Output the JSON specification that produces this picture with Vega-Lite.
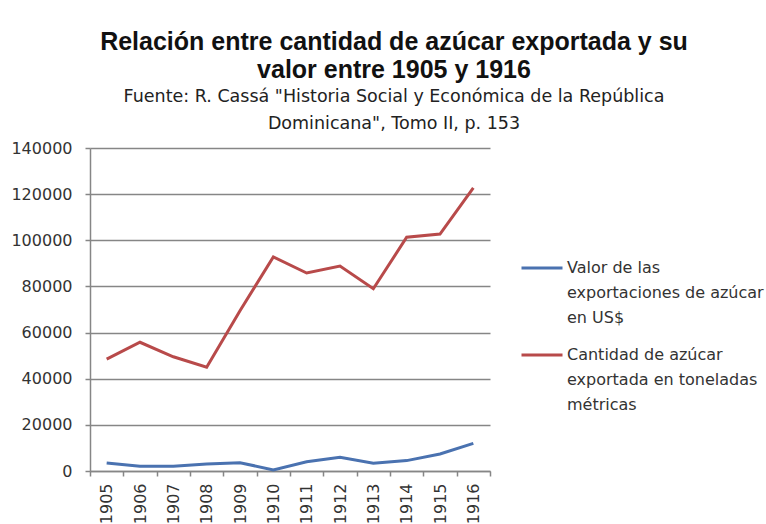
{
  "$schema": "https://vega.github.io/schema/vega-lite/v6.json",
  "autosize": {"type": "none"},
  "width": 400,
  "height": 323,
  "padding": {"left": 90, "top": 148, "right": 276, "bottom": 53},
  "background": "white",
  "title": {
    "text": ["Relación entre cantidad de azúcar exportada y su", "valor entre 1905 y 1916"],
    "subtitle": ["Fuente: R. Cassá \"Historia Social y Económica de la República", "Dominicana\", Tomo II, p. 153"],
    "anchor": "middle",
    "frame": "group",
    "dx": 104,
    "font": "Liberation Sans",
    "fontSize": 25,
    "fontWeight": "bold",
    "lineHeight": 28,
    "color": "#111111",
    "subtitleFont": "DejaVu Sans",
    "subtitleFontSize": 17.5,
    "subtitleLineHeight": 27,
    "subtitleColor": "#222222",
    "subtitlePadding": 5,
    "offset": 8
  },
  "data": {
    "values": [
      {"year": "1905", "series": "Valor de las exportaciones de azúcar en US$", "value": 3500},
      {"year": "1906", "series": "Valor de las exportaciones de azúcar en US$", "value": 2100},
      {"year": "1907", "series": "Valor de las exportaciones de azúcar en US$", "value": 2100},
      {"year": "1908", "series": "Valor de las exportaciones de azúcar en US$", "value": 3000},
      {"year": "1909", "series": "Valor de las exportaciones de azúcar en US$", "value": 3600},
      {"year": "1910", "series": "Valor de las exportaciones de azúcar en US$", "value": 500},
      {"year": "1911", "series": "Valor de las exportaciones de azúcar en US$", "value": 4000},
      {"year": "1912", "series": "Valor de las exportaciones de azúcar en US$", "value": 6000},
      {"year": "1913", "series": "Valor de las exportaciones de azúcar en US$", "value": 3400},
      {"year": "1914", "series": "Valor de las exportaciones de azúcar en US$", "value": 4500},
      {"year": "1915", "series": "Valor de las exportaciones de azúcar en US$", "value": 7400},
      {"year": "1916", "series": "Valor de las exportaciones de azúcar en US$", "value": 12000},
      {"year": "1905", "series": "Cantidad de azúcar exportada en toneladas métricas", "value": 48500},
      {"year": "1906", "series": "Cantidad de azúcar exportada en toneladas métricas", "value": 55800},
      {"year": "1907", "series": "Cantidad de azúcar exportada en toneladas métricas", "value": 49500},
      {"year": "1908", "series": "Cantidad de azúcar exportada en toneladas métricas", "value": 45000},
      {"year": "1909", "series": "Cantidad de azúcar exportada en toneladas métricas", "value": 69500},
      {"year": "1910", "series": "Cantidad de azúcar exportada en toneladas métricas", "value": 92800},
      {"year": "1911", "series": "Cantidad de azúcar exportada en toneladas métricas", "value": 85800},
      {"year": "1912", "series": "Cantidad de azúcar exportada en toneladas métricas", "value": 88800},
      {"year": "1913", "series": "Cantidad de azúcar exportada en toneladas métricas", "value": 79000},
      {"year": "1914", "series": "Cantidad de azúcar exportada en toneladas métricas", "value": 101300},
      {"year": "1915", "series": "Cantidad de azúcar exportada en toneladas métricas", "value": 102700},
      {"year": "1916", "series": "Cantidad de azúcar exportada en toneladas métricas", "value": 122700}
    ]
  },
  "mark": {"type": "line", "strokeWidth": 3},
  "encoding": {
    "x": {
      "field": "year",
      "type": "ordinal",
      "scale": {"type": "band", "paddingInner": 0, "paddingOuter": 0},
      "axis": {
        "title": null,
        "labelAngle": 270,
        "labelFont": "DejaVu Sans",
        "labelFontSize": 16,
        "labelColor": "#333333",
        "labelPadding": 7,
        "tickBand": "extent",
        "ticks": true,
        "tickSize": 5,
        "tickColor": "#868686",
        "tickWidth": 1.5,
        "domainColor": "#868686",
        "domainWidth": 1.5,
        "grid": false
      }
    },
    "y": {
      "field": "value",
      "type": "quantitative",
      "scale": {"domain": [0, 140000], "nice": false},
      "axis": {
        "title": null,
        "values": [0, 20000, 40000, 60000, 80000, 100000, 120000, 140000],
        "format": "d",
        "labelFont": "DejaVu Sans",
        "labelFontSize": 16,
        "labelColor": "#333333",
        "labelPadding": 13,
        "tickSize": 5,
        "tickColor": "#868686",
        "tickWidth": 1.5,
        "domainColor": "#868686",
        "domainWidth": 1.5,
        "grid": true,
        "gridColor": "#868686",
        "gridWidth": 1.5
      }
    },
    "color": {
      "field": "series",
      "type": "nominal",
      "scale": {
        "domain": ["Valor de las exportaciones de azúcar en US$", "Cantidad de azúcar exportada en toneladas métricas"],
        "range": ["#4a72b0", "#b84a4a"]
      },
      "legend": {
        "title": null,
        "orient": "none",
        "legendX": 430,
        "legendY": 98,
        "symbolType": "stroke",
        "symbolSize": 1681,
        "symbolStrokeWidth": 3,
        "labelFont": "DejaVu Sans",
        "labelFontSize": 16,
        "labelColor": "#333333",
        "labelOffset": 3,
        "labelLimit": 300,
        "rowPadding": 7,
        "labelExpr": "datum.label == 'Valor de las exportaciones de azúcar en US$' ? ['Valor de las', 'exportaciones de azúcar', 'en US$'] : ['Cantidad de azúcar', 'exportada en toneladas', 'métricas']",
        "encode": {"labels": {"update": {"lineHeight": {"value": 25}}}}
      }
    }
  },
  "config": {"view": {"stroke": null}}
}
